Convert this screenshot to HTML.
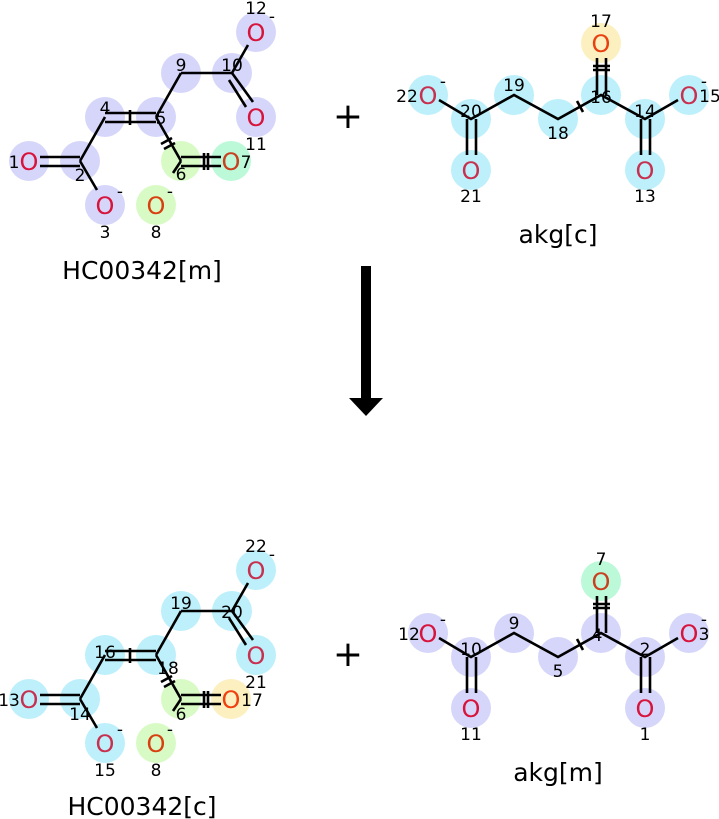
<!DOCTYPE html>
<html><head><meta charset="utf-8"><style>
html,body{margin:0;padding:0;background:#fff;width:719px;height:819px;overflow:hidden}
svg{display:block}
text{font-family:"DejaVu Sans","Liberation Sans",sans-serif}
.n{font-size:17px;fill:#000;text-anchor:middle}
.o{font-size:24px;text-anchor:middle}
.t{font-size:25px;fill:#000;text-anchor:middle}
line,polyline{stroke:#000;stroke-width:2.6;fill:none}
</style></head><body>
<svg width="719" height="819" viewBox="0 0 719 819">
<!-- ===== Top-left HC00342[m] ===== -->
<g>
<circle cx="256" cy="32" r="20" fill="#d6d6fa"/>
<circle cx="232" cy="73" r="20" fill="#d6d6fa"/>
<circle cx="181" cy="73" r="20" fill="#d6d6fa"/>
<circle cx="256" cy="117" r="20" fill="#d6d6fa"/>
<circle cx="156" cy="117" r="20" fill="#d6d6fa"/>
<circle cx="105" cy="117" r="20" fill="#d6d6fa"/>
<circle cx="80" cy="161" r="20" fill="#d6d6fa"/>
<circle cx="29" cy="161" r="20" fill="#d6d6fa"/>
<circle cx="105" cy="205" r="20" fill="#d6d6fa"/>
<circle cx="181" cy="161" r="20" fill="#d8fbc6"/>
<circle cx="231" cy="161" r="20" fill="#bcf9d8"/>
<circle cx="156" cy="205" r="20" fill="#d8fbc6"/>
</g>
<g>
<line x1="248" y1="45" x2="232" y2="73"/>
<line x1="232" y1="73" x2="181" y2="73"/>
<line x1="181" y1="73" x2="156" y2="117"/>
<line x1="232" y1="73" x2="253" y2="102"/>
<line x1="229" y1="80" x2="246" y2="107"/>
<line x1="105" y1="113" x2="156" y2="113"/>
<line x1="105" y1="122" x2="156" y2="122"/>
<line x1="130" y1="110" x2="130" y2="125"/>
<line x1="105" y1="117" x2="80" y2="161"/>
<line x1="80" y1="161" x2="97" y2="190"/>
<line x1="40" y1="157" x2="80" y2="157"/>
<line x1="40" y1="166" x2="80" y2="166"/>
<line x1="156" y1="117" x2="181" y2="161"/>
<line x1="161" y1="144" x2="172" y2="138"/>
<line x1="164" y1="149" x2="175" y2="143"/>
<line x1="181" y1="157" x2="221" y2="157"/>
<line x1="181" y1="166" x2="221" y2="166"/>
<line x1="204" y1="153" x2="204" y2="170"/>
<line x1="208" y1="153" x2="208" y2="170"/>
<line x1="181" y1="161" x2="173" y2="173"/>
</g>
<g class="o">
<text x="256" y="41" fill="#d7143c">O</text>
<text x="256" y="126" fill="#d7143c">O</text>
<text x="29" y="170" fill="#d7143c">O</text>
<text x="105" y="214" fill="#d7143c">O</text>
<text x="231" y="170" fill="#c84020">O</text>
<text x="156" y="214" fill="#d84010">O</text>
</g>
<g class="n">
<text x="256" y="14">12</text><text x="272" y="22">-</text>
<text x="232" y="71">10</text>
<text x="181" y="71">9</text>
<text x="256" y="150">11</text>
<text x="161" y="124">5</text>
<text x="105" y="114">4</text>
<text x="80" y="181">2</text>
<text x="14" y="168">1</text>
<text x="105" y="238">3</text><text x="120" y="197">-</text>
<text x="181" y="180">6</text>
<text x="246" y="168">7</text>
<text x="156" y="238">8</text><text x="170" y="197">-</text>
</g>
<text class="t" x="142" y="279">HC00342[m]</text>

<!-- ===== Top-right akg[c] ===== -->
<g>
<circle cx="428" cy="95" r="20" fill="#bdf0fb"/>
<circle cx="471" cy="119" r="20" fill="#bdf0fb"/>
<circle cx="514" cy="95" r="20" fill="#bdf0fb"/>
<circle cx="558" cy="119" r="20" fill="#bdf0fb"/>
<circle cx="601" cy="95" r="20" fill="#bdf0fb"/>
<circle cx="601" cy="43" r="20" fill="#fdf0c0"/>
<circle cx="645" cy="119" r="20" fill="#bdf0fb"/>
<circle cx="689" cy="95" r="20" fill="#bdf0fb"/>
<circle cx="471" cy="170" r="20" fill="#bdf0fb"/>
<circle cx="645" cy="170" r="20" fill="#bdf0fb"/>
</g>
<g>
<polyline points="439,100 471,119 514,95 558,119 601,95 645,119 678,100"/>
<line x1="467" y1="119" x2="467" y2="155"/>
<line x1="476" y1="119" x2="476" y2="155"/>
<line x1="641" y1="119" x2="641" y2="155"/>
<line x1="650" y1="119" x2="650" y2="155"/>
<line x1="597" y1="58" x2="597" y2="95"/>
<line x1="606" y1="58" x2="606" y2="95"/>
<line x1="593" y1="66" x2="610" y2="66"/>
<line x1="593" y1="70" x2="610" y2="70"/>
<line x1="577" y1="101" x2="583" y2="112"/>
</g>
<g class="o" fill="#c83050">
<text x="428" y="104">O</text>
<text x="689" y="104">O</text>
<text x="471" y="179">O</text>
<text x="645" y="179">O</text>
<text x="601" y="52" fill="#e84010">O</text>
</g>
<g class="n">
<text x="601" y="27">17</text>
<text x="407" y="102">22</text><text x="443" y="87">-</text>
<text x="471" y="117">20</text>
<text x="514" y="91">19</text>
<text x="558" y="139">18</text>
<text x="601" y="103">16</text>
<text x="645" y="117">14</text>
<text x="710" y="102">15</text><text x="704" y="87">-</text>
<text x="471" y="202">21</text>
<text x="645" y="202">13</text>
</g>
<text class="t" x="558" y="243">akg[c]</text>

<!-- plus signs -->
<text x="348" y="128" font-size="36" text-anchor="middle" fill="#000">+</text>
<text x="348" y="666" font-size="36" text-anchor="middle" fill="#000">+</text>

<!-- arrow -->
<rect x="361" y="266" width="10" height="136" fill="#000"/>
<polygon points="349,398 383,398 366,416" fill="#000"/>

<!-- ===== Bottom-left HC00342[c] ===== -->
<g transform="translate(0,538)">
<circle cx="256" cy="32" r="20" fill="#bdf0fb"/>
<circle cx="232" cy="73" r="20" fill="#bdf0fb"/>
<circle cx="181" cy="73" r="20" fill="#bdf0fb"/>
<circle cx="256" cy="117" r="20" fill="#bdf0fb"/>
<circle cx="156" cy="117" r="20" fill="#bdf0fb"/>
<circle cx="105" cy="117" r="20" fill="#bdf0fb"/>
<circle cx="80" cy="161" r="20" fill="#bdf0fb"/>
<circle cx="29" cy="161" r="20" fill="#bdf0fb"/>
<circle cx="105" cy="205" r="20" fill="#bdf0fb"/>
<circle cx="181" cy="161" r="20" fill="#d8fbc6"/>
<circle cx="231" cy="161" r="20" fill="#fdf0c0"/>
<circle cx="156" cy="205" r="20" fill="#d8fbc6"/>
<line x1="248" y1="45" x2="232" y2="73"/>
<line x1="232" y1="73" x2="181" y2="73"/>
<line x1="181" y1="73" x2="156" y2="117"/>
<line x1="232" y1="73" x2="253" y2="102"/>
<line x1="229" y1="80" x2="246" y2="107"/>
<line x1="105" y1="113" x2="156" y2="113"/>
<line x1="105" y1="122" x2="156" y2="122"/>
<line x1="130" y1="110" x2="130" y2="125"/>
<line x1="105" y1="117" x2="80" y2="161"/>
<line x1="80" y1="161" x2="97" y2="190"/>
<line x1="40" y1="157" x2="80" y2="157"/>
<line x1="40" y1="166" x2="80" y2="166"/>
<line x1="156" y1="117" x2="181" y2="161"/>
<line x1="161" y1="144" x2="172" y2="138"/>
<line x1="164" y1="149" x2="175" y2="143"/>
<line x1="181" y1="157" x2="221" y2="157"/>
<line x1="181" y1="166" x2="221" y2="166"/>
<line x1="204" y1="153" x2="204" y2="170"/>
<line x1="208" y1="153" x2="208" y2="170"/>
<line x1="181" y1="161" x2="173" y2="173"/>
<g class="o">
<text x="256" y="41" fill="#c83050">O</text>
<text x="256" y="126" fill="#c83050">O</text>
<text x="29" y="170" fill="#c83050">O</text>
<text x="105" y="214" fill="#c83050">O</text>
<text x="231" y="170" fill="#f04010">O</text>
<text x="156" y="214" fill="#d84010">O</text>
</g>
<g class="n">
<text x="256" y="14">22</text><text x="272" y="22">-</text>
<text x="232" y="80">20</text>
<text x="181" y="71">19</text>
<text x="256" y="150">21</text>
<text x="168" y="136">18</text>
<text x="105" y="120">16</text>
<text x="80" y="182">14</text>
<text x="9" y="168">13</text>
<text x="105" y="238">15</text><text x="120" y="197">-</text>
<text x="181" y="182">6</text>
<text x="252" y="168">17</text>
<text x="156" y="238">8</text><text x="170" y="197">-</text>
</g>
</g>
<text class="t" x="142" y="815">HC00342[c]</text>

<!-- ===== Bottom-right akg[m] ===== -->
<g transform="translate(0,538)">
<circle cx="428" cy="95" r="20" fill="#d6d6fa"/>
<circle cx="471" cy="119" r="20" fill="#d6d6fa"/>
<circle cx="514" cy="95" r="20" fill="#d6d6fa"/>
<circle cx="558" cy="119" r="20" fill="#d6d6fa"/>
<circle cx="601" cy="95" r="20" fill="#d6d6fa"/>
<circle cx="601" cy="43" r="20" fill="#bcf9d8"/>
<circle cx="645" cy="119" r="20" fill="#d6d6fa"/>
<circle cx="689" cy="95" r="20" fill="#d6d6fa"/>
<circle cx="471" cy="170" r="20" fill="#d6d6fa"/>
<circle cx="645" cy="170" r="20" fill="#d6d6fa"/>
<polyline points="439,100 471,119 514,95 558,119 601,95 645,119 678,100"/>
<line x1="467" y1="119" x2="467" y2="155"/>
<line x1="476" y1="119" x2="476" y2="155"/>
<line x1="641" y1="119" x2="641" y2="155"/>
<line x1="650" y1="119" x2="650" y2="155"/>
<line x1="597" y1="58" x2="597" y2="95"/>
<line x1="606" y1="58" x2="606" y2="95"/>
<line x1="593" y1="66" x2="610" y2="66"/>
<line x1="593" y1="70" x2="610" y2="70"/>
<line x1="577" y1="101" x2="583" y2="112"/>
<g class="o" fill="#d7143c">
<text x="428" y="104">O</text>
<text x="689" y="104">O</text>
<text x="471" y="179">O</text>
<text x="645" y="179">O</text>
<text x="601" y="52" fill="#c84020">O</text>
</g>
<g class="n">
<text x="601" y="27">7</text>
<text x="409" y="102">12</text><text x="443" y="87">-</text>
<text x="471" y="117">10</text>
<text x="514" y="91">9</text>
<text x="558" y="139">5</text>
<text x="597" y="103">4</text>
<text x="645" y="117">2</text>
<text x="704" y="102">3</text><text x="704" y="87">-</text>
<text x="471" y="202">11</text>
<text x="645" y="202">1</text>
</g>
</g>
<text class="t" x="558" y="781">akg[m]</text>
</svg>
</body></html>
